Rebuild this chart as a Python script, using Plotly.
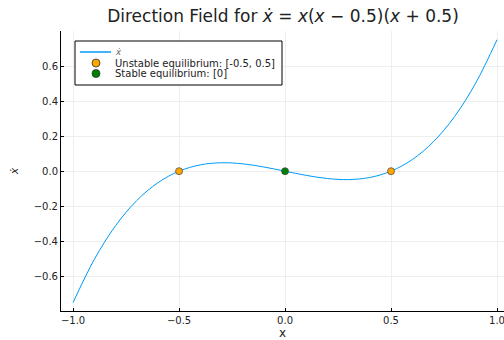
import plotly.graph_objects as go

# Curve samples
x_vals = [-1.0, -0.9, -0.8, -0.7, -0.6, -0.5, -0.4, -0.3, -0.2, -0.1, 0.0,
          0.1, 0.2, 0.3, 0.4, 0.5, 0.6, 0.7, 0.8, 0.9, 1.0]
xdot_vals = [-0.75, -0.504, -0.312, -0.168, -0.066, 0.0, 0.036, 0.048, 0.042, 0.024, 0.0,
             -0.024, -0.042, -0.048, -0.036, 0.0, 0.066, 0.168, 0.312, 0.504, 0.75]

unstable_x = [-0.5, 0.5]
unstable_y = [0.0, 0.0]
stable_x = [0.0]
stable_y = [0.0]

legend_labels = ["ẋ", "Unstable equilibrium: [-0.5, 0.5]", "Stable equilibrium: [0]"]

x_ticks = [-1.0, -0.5, 0.0, 0.5, 1.0]
x_tick_labels = ["−1.0", "−0.5", "0.0", "0.5", "1.0"]
y_ticks = [-0.6, -0.4, -0.2, 0.0, 0.2, 0.4, 0.6]
y_tick_labels = ["−0.6", "−0.4", "−0.2", "0.0", "0.2", "0.4", "0.6"]

LINE_C = "#009AFA"
UNST_C = "#FFA500"
STAB_C = "#008000"
font_family = "DejaVu Sans"

W, H = 504, 340
ML, MR, MT, MB = 61, 0, 31, 29
PW, PH = W - ML - MR, H - MT - MB


def px(xp):
    return (xp - ML) / PW


def py(yp):
    return (H - MB - yp) / PH


fig = go.Figure()
fig.add_trace(go.Scatter(
    x=x_vals, y=xdot_vals, mode="lines", line=dict(color=LINE_C, width=1, shape="spline"),
    name=legend_labels[0], showlegend=False))
fig.add_trace(go.Scatter(
    x=unstable_x, y=unstable_y, mode="markers",
    marker=dict(color=UNST_C, size=7, line=dict(color="#444444", width=0.7)),
    name=legend_labels[1], showlegend=False))
fig.add_trace(go.Scatter(
    x=stable_x, y=stable_y, mode="markers",
    marker=dict(color=STAB_C, size=7, line=dict(color="#444444", width=0.7)),
    name=legend_labels[2], showlegend=False))

shapes = []
annotations = []
# legend box
shapes.append(dict(type="rect", xref="paper", yref="paper",
                   x0=px(75), x1=px(282), y0=py(85), y1=py(41),
                   line=dict(color="black", width=1), fillcolor="white", layer="above"))
# line sample
shapes.append(dict(type="line", xref="paper", yref="paper",
                   x0=px(80), x1=px(111), y0=py(52), y1=py(52),
                   line=dict(color=LINE_C, width=1.5), layer="above"))
# marker samples
for yy, col in [(63, UNST_C), (73.5, STAB_C)]:
    shapes.append(dict(type="circle", xref="paper", yref="paper",
                       xsizemode="pixel", ysizemode="pixel",
                       xanchor=px(96), yanchor=py(yy),
                       x0=-4, x1=4, y0=-4, y1=4,
                       fillcolor=col, line=dict(color="#333333", width=0.8), layer="above"))
for yy, txt, italic in [(52, legend_labels[0], True), (63, legend_labels[1], False),
                        (73.5, legend_labels[2], False)]:
    annotations.append(dict(xref="paper", yref="paper", x=px(113), y=py(yy),
                            xanchor="left", yanchor="middle", showarrow=False,
                            text=("<i>%s</i>" % txt) if italic else txt,
                            font=dict(size=8.5 if italic else 10, family=font_family,
                                      color="#666666" if italic else "#222222")))

fig.update_layout(
    width=W, height=H,
    margin=dict(l=ML, r=MR, t=MT, b=MB),
    paper_bgcolor="white", plot_bgcolor="white",
    font=dict(family=font_family, color="#222222", size=10),
    title=dict(text="Direction Field for <i>ẋ</i> = <i>x</i>(<i>x</i> − 0.5)(<i>x</i> + 0.5)",
               x=283 / W, xanchor="center", y=1 - 16 / H, yanchor="middle",
               font=dict(size=17, family=font_family, color="#222222")),
    showlegend=False,
    shapes=shapes,
    annotations=annotations,
    xaxis=dict(range=[-1.057, 1.033], tickvals=x_ticks, ticktext=x_tick_labels,
               showgrid=True, gridcolor="#EEEEEE", gridwidth=1, zeroline=False,
               showline=True, linecolor="black", linewidth=1, ticks="inside",
               ticklen=3, tickcolor="black", automargin=False,
               ticklabeloverflow="allow",
               title=dict(text="x", font=dict(size=12), standoff=5),
               tickfont=dict(size=10)),
    yaxis=dict(range=[-0.798, 0.8], tickvals=y_ticks, ticktext=y_tick_labels,
               showgrid=True, gridcolor="#EEEEEE", gridwidth=1, zeroline=False,
               showline=True, linecolor="black", linewidth=1, ticks="inside",
               ticklen=3, tickcolor="black", automargin=False,
               title=dict(text="<i>ẋ</i>", font=dict(size=11), standoff=12),
               tickfont=dict(size=10)),
)

fig.write_html("out.html", config={"displayModeBar": False},
               post_script="document.body.style.margin='0';")
